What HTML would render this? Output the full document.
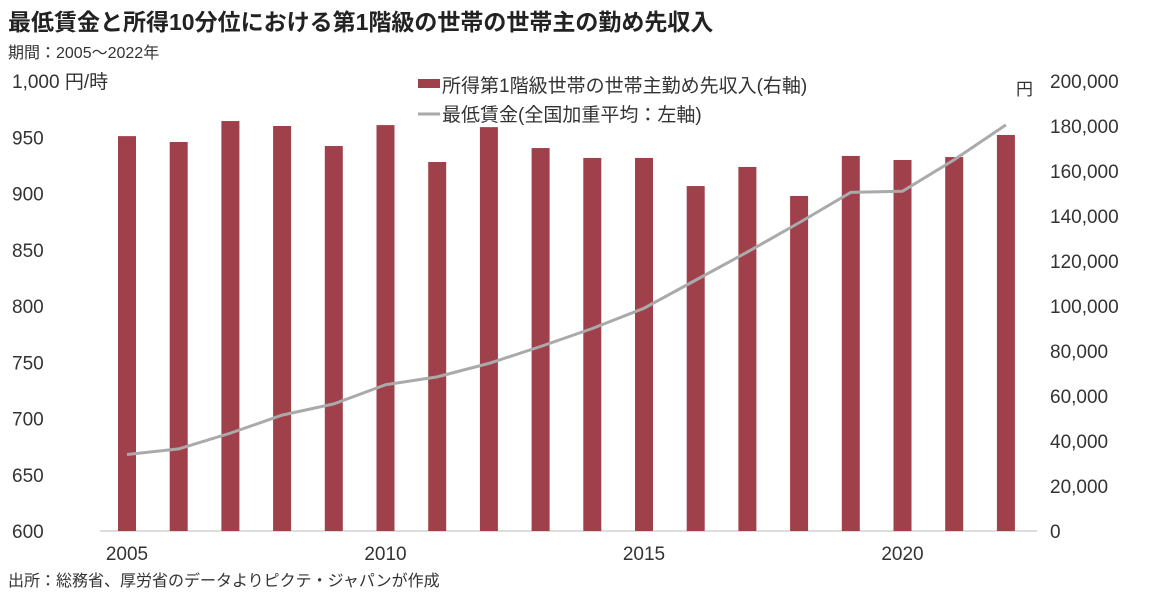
<!DOCTYPE html>
<html><head><meta charset="utf-8">
<style>
body{margin:0;background:#fff;width:1157px;height:599px;overflow:hidden;font-family:"Liberation Sans","Noto Sans CJK JP",sans-serif;}
</style></head><body>
<svg id="chart" width="1157" height="599" xmlns="http://www.w3.org/2000/svg" font-family="Liberation Sans, Noto Sans CJK JP, sans-serif">
<text x="8" y="30" font-size="23" font-weight="bold" fill="#222">最低賃金と所得10分位における第1階級の世帯の世帯主の勤め先収入</text>
<text x="8" y="58" font-size="16" fill="#333">期間：2005～2022年</text>
<text x="12" y="88" font-size="19" fill="#333">1,000 円/時</text>
<text x="1016" y="95" font-size="17" fill="#333">円</text>
<g>
<rect x="418" y="79" width="22" height="9" fill="#a0404a"/>
<text x="442" y="92" font-size="19" fill="#333">所得第1階級世帯の世帯主勤め先収入(右軸)</text>
<line x1="418" y1="114" x2="440" y2="114" stroke="#aaa" stroke-width="3"/>
<text x="442" y="121" font-size="19" fill="#333">最低賃金(全国加重平均：左軸)</text>
</g>
<g id="axes"></g>
<g id="bars"></g>
<g id="line"></g>
<text x="8" y="586" font-size="16" fill="#333">出所：総務省、厚労省のデータよりピクテ・ジャパンが作成</text>
</svg>
<script>
const years=[2005,2006,2007,2008,2009,2010,2011,2012,2013,2014,2015,2016,2017,2018,2019,2020,2021,2022];
const income=[175500,172900,182200,180000,171100,180400,164000,179500,170200,165800,165800,153300,161800,148900,166700,164900,166200,176000];
const minWage=[668,673,687,703,713,730,737,749,764,780,798,823,848,874,901,902,930,961];
const leftTicks=[600,650,700,750,800,850,900,950];
const rightTicks=[0,20000,40000,60000,80000,100000,120000,140000,160000,180000,200000];
const xTicks=[2005,2010,2015,2020];
const NS="http://www.w3.org/2000/svg";
const y0=531,y1=81;
const x=yr=>127+(yr-2005)*51.7;
const yL=v=>y0-(v-600)/400*(y0-y1);
const yR=v=>y0-v/200000*(y0-y1);
function mk(t,a,p){const e=document.createElementNS(NS,t);for(const k in a)e.setAttribute(k,a[k]);p.appendChild(e);return e;}
const ax=document.getElementById('axes');
const base=mk('line',{x1:100,x2:1037,y1:y0,y2:y0,stroke:'#bbb','stroke-width':1},ax);


leftTicks.forEach(v=>{const t=mk('text',{x:12,y:yL(v)+7,'font-size':19,fill:'#333'},ax);t.textContent=v;

});
rightTicks.forEach(v=>{const t=mk('text',{x:1050,y:yR(v)+7,'font-size':19,fill:'#333'},ax);t.textContent=v.toLocaleString('en-US');

});
xTicks.forEach(v=>{const t=mk('text',{x:x(v),y:560,'font-size':19,fill:'#333','text-anchor':'middle'},ax);t.textContent=v;

});
const bg=document.getElementById('bars');
years.forEach((yr,i)=>{const r=mk('rect',{x:x(yr)-9,y:yR(income[i]),width:18,height:y0-yR(income[i]),fill:'#a0404a'},bg);

});
const lg=document.getElementById('line');
const p=mk('polyline',{points:years.map((yr,i)=>x(yr)+','+yL(minWage[i])).join(' '),fill:'none',stroke:'#aaa','stroke-width':3},lg);


</script>
</body></html>
